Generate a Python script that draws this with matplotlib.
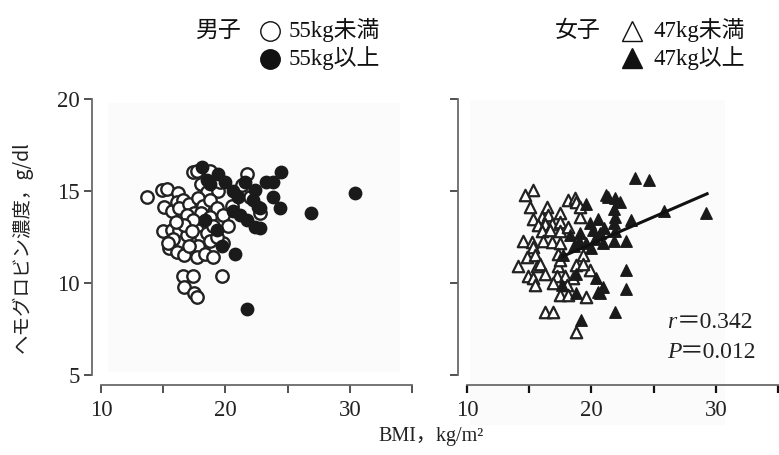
import matplotlib
matplotlib.use("Agg")
import matplotlib.pyplot as plt
from matplotlib.lines import Line2D
from matplotlib.patches import Rectangle

plt.rcParams['font.family'] = ['Liberation Serif', 'Noto Sans CJK JP', 'DejaVu Sans']
plt.rcParams['mathtext.fontset'] = 'stix'

# ---------------- data ----------------
male_light_x = [13.7, 14.9, 15.3, 15.1, 15.7, 16.2, 16.1, 16.6, 16.3, 17.1, 17.5, 16.9, 15.0, 15.7, 16.3,
                15.8, 16.9, 17.7, 18.0, 18.5, 15.5, 16.1, 16.7, 17.8, 17.7, 18.4, 19.0, 16.6, 17.4, 19.7,
                16.7, 17.5, 17.7, 17.4, 17.7, 18.8, 18.0, 18.5, 19.4, 17.8, 18.2, 18.8, 19.3, 18.0, 18.8,
                19.8, 17.4, 20.2, 19.0, 16.7, 17.3, 21.7, 22.0, 22.8, 19.8, 18.8, 17.1, 19.6,
                20.5, 21.3, 19.3, 16.0, 15.4]
male_light_y = [14.7, 15.05, 15.1, 14.15, 13.9, 14.9, 14.4, 14.5, 14.05, 14.3, 13.8, 13.7, 12.8, 12.9, 12.9,
                12.4, 12.6, 12.9, 12.5, 12.7, 11.9, 11.7, 11.5, 12.0, 11.4, 11.6, 11.4, 10.4, 10.4, 10.4,
                9.8, 9.45, 9.25, 16.05, 16.1, 16.1, 15.4, 14.96, 15.0, 14.6, 14.2, 14.5, 14.05, 13.8, 13.6,
                13.7, 13.4, 13.1, 13.1, 13.15, 12.8, 15.9, 14.7, 13.8, 12.2, 12.3, 12.0, 15.5,
                14.2, 15.3, 12.5, 13.3, 12.2]

male_heavy_x = [18.1, 18.5, 19.4, 18.8, 20.0, 20.6, 21.0, 21.6, 22.4, 22.2, 22.6, 23.3, 23.8, 23.8, 24.4,
                20.6, 21.2, 21.7, 22.4, 18.4, 19.3, 19.7, 20.8, 21.7, 24.5, 26.9, 30.4, 22.8, 22.8]
male_heavy_y = [16.3, 15.6, 15.95, 15.4, 15.5, 15.0, 14.7, 15.5, 15.05, 14.5, 14.15, 15.5, 15.5, 14.7, 14.05,
                13.9, 13.7, 13.4, 13.05, 13.4, 12.9, 12.0, 11.6, 8.6, 16.05, 13.8, 14.9, 14.05, 13.0]

female_light_x = [15.3, 14.7, 15.1, 16.4, 18.1, 18.7, 18.8, 15.3, 16.0, 16.5, 17.5, 19.1, 15.7, 16.3, 16.8,
                  17.5, 16.0, 16.7, 17.5, 18.1, 14.5, 15.2, 16.1, 16.8, 15.3, 17.5, 14.8, 15.5, 17.3, 19.3,
                  14.1, 15.6, 15.9, 17.3, 18.8, 14.9, 15.3, 16.3, 17.2, 17.9, 18.5, 19.9, 15.5, 16.9, 18.0,
                  17.5, 18.1, 19.6, 16.3, 16.9, 18.8, 19.3, 17.5, 19.1]
female_light_y = [15.05, 14.8, 14.15, 14.15, 14.5, 14.6, 14.4, 13.5, 13.6, 13.7, 13.8, 13.6, 13.15, 13.2, 13.2,
                  13.3, 12.8, 12.9, 12.8, 13.05, 12.3, 12.25, 12.3, 12.25, 11.95, 12.15, 11.4, 11.5, 11.6, 11.5,
                  10.9, 10.9, 11.05, 10.9, 11.0, 10.4, 10.25, 10.5, 10.4, 10.4, 10.25, 10.7, 9.9, 10.0, 9.9,
                  9.35, 9.35, 9.25, 8.45, 8.45, 7.35, 11.05, 11.25, 14.15]

female_heavy_x = [21.35, 21.9, 19.6, 18.3, 19.1, 19.9, 20.1, 21.8, 21.9, 21.8, 21.9, 21.8, 20.7, 20.95, 17.7,
                  18.8, 20.4, 17.6, 18.8, 20.5, 21.9, 19.2, 22.8, 22.8, 22.8, 23.5, 24.6, 22.3, 23.2, 25.8,
                  29.25, 20.9, 20.7, 21.2, 20.3, 19.6, 20.0, 21.0, 20.5, 19.0, 18.6]
female_heavy_y = [14.7, 14.6, 14.3, 12.6, 12.7, 13.25, 12.9, 14.0, 13.6, 13.25, 12.8, 12.3, 12.7, 12.15, 11.5,
                  10.5, 10.25, 9.9, 9.45, 9.5, 8.45, 8.0, 10.7, 9.7, 12.3, 15.7, 15.6, 14.4, 13.4, 13.9,
                  13.8, 9.8, 9.45, 14.8, 12.4, 12.2, 11.9, 13.0, 13.5, 12.3, 12.0]

fit_x = [17.7, 29.3]
fit_y = [11.45, 14.85]

x_ticks = [10, 15, 20, 25, 30, 35]
x_ticklabels = ['10', '', '20', '', '30', '']
y_ticks = [5, 10, 15, 20]
y_ticklabels = ['5', '10', '15', '20']

stat_r = "0.342"
stat_p = "0.012"

# ---------------- figure ----------------
W, H = 779, 455
fig = plt.figure(figsize=(W / 100, H / 100), dpi=100)


def fx(px):
    return px / W


def fy(py):
    return 1 - py / H


# faint scanned background panels
for (x0, y0, x1, y1) in [(108, 103, 400, 372), (470, 100, 725, 425)]:
    fig.patches.append(Rectangle((fx(x0), fy(y1)), fx(x1) - fx(x0), fy(y0) - fy(y1),
                                 transform=fig.transFigure, facecolor='#fbfbfb',
                                 edgecolor='none', zorder=-5))

ax1 = fig.add_axes([fx(101), fy(375), fx(412) - fx(101), fy(99) - fy(375)])
ax2 = fig.add_axes([fx(467), fy(375), fx(778) - fx(467), fy(99) - fy(375)])

circ_s = 80
tri_s = 68
ax1.scatter(male_light_x, male_light_y, s=circ_s, marker='o', facecolors='white',
            edgecolors='#222222', linewidths=1.7, zorder=3)
ax1.scatter(male_heavy_x, male_heavy_y, s=circ_s, marker='o', facecolors='#1a1a1a',
            edgecolors='#1a1a1a', linewidths=1.0, zorder=4)

ax2.scatter(female_light_x, female_light_y, s=tri_s, marker='^', facecolors='white',
            edgecolors='#222222', linewidths=1.6, zorder=3)
ax2.scatter(female_heavy_x, female_heavy_y, s=tri_s, marker='^', facecolors='#1a1a1a',
            edgecolors='#1a1a1a', linewidths=1.0, zorder=4)
ax2.plot(fit_x, fit_y, color='#111111', lw=2.2, zorder=5)

for i, ax in enumerate((ax1, ax2)):
    ax.set_zorder(5)
    ax.set_xlim(10, 35)
    ax.set_ylim(5, 20)
    ax.patch.set_visible(False)
    for s in ('top', 'right'):
        ax.spines[s].set_visible(False)
    ax.spines['left'].set_position(('outward', 6.5))
    ax.spines['bottom'].set_position(('outward', 7.2))
    for s in ('left', 'bottom'):
        ax.spines[s].set_color('#6a6a6a')
        ax.spines[s].set_linewidth(1.3)
    ax.set_xticks(x_ticks)
    ax.set_xticklabels(x_ticklabels)
    ax.set_yticks(y_ticks)
    if i == 0:
        ax.set_yticklabels(y_ticklabels)
    else:
        ax.set_yticklabels([])
    ax.tick_params(axis='both', direction='out', length=6, width=1.2,
                   colors='#333333', labelcolor='#222222', labelsize=16.5, pad=3)
    ax.tick_params(axis='x', pad=5)

ax2.tick_params(axis='x', colors='#111111', width=1.6, labelcolor='#222222')

# stats (italic symbol + full-width equals and value)
fig.text(fx(667), fy(322), "r", fontsize=17, style='italic', ha='left', va='center',
         color='#222222')
fig.text(fx(677), fy(322), "＝" + stat_r, fontsize=17, ha='left', va='center',
         color='#222222')
fig.text(fx(667), fy(352), "P", fontsize=17, style='italic', ha='left', va='center',
         color='#222222')
fig.text(fx(680), fy(352), "＝" + stat_p, fontsize=17, ha='left', va='center',
         color='#222222')

# axis labels
fig.text(fx(22), fy(247), "ヘモグロビン濃度，g/dl", rotation=90, ha='center', va='center',
         fontsize=14, color='#222222', family=['Noto Sans CJK JP', 'Liberation Serif'])
fig.text(fx(431), fy(437), "BMI，kg/m²", ha='center', va='center',
         fontsize=14.5, color='#222222')

# legends
def leg_marker(px, py, marker, filled, ms):
    fig.add_artist(Line2D([fx(px)], [fy(py)], transform=fig.transFigure, marker=marker,
                          markersize=ms, markerfacecolor='#111111' if filled else 'white',
                          markeredgecolor='#111111', markeredgewidth=1.0, linestyle='none'))

fs_leg = 16.5
fig.text(fx(218), fy(30), "男子", ha='center', va='center', fontsize=fs_leg,
         family=['Noto Sans CJK JP'], color='#111111')
leg_marker(270, 31, 'o', False, 14)
fig.text(fx(289), fy(30), "55kg未満", ha='left', va='center', fontsize=fs_leg, color='#111111')
leg_marker(270, 59, 'o', True, 14)
fig.text(fx(289), fy(58), "55kg以上", ha='left', va='center', fontsize=fs_leg, color='#111111')

fig.text(fx(578), fy(30), "女子", ha='center', va='center', fontsize=fs_leg,
         family=['Noto Sans CJK JP'], color='#111111')
leg_marker(632, 31, '^', False, 15)
fig.text(fx(654), fy(30), "47kg未満", ha='left', va='center', fontsize=fs_leg, color='#111111')
leg_marker(632, 58, '^', True, 15)
fig.text(fx(654), fy(58), "47kg以上", ha='left', va='center', fontsize=fs_leg, color='#111111')

fig.savefig("out.png", dpi=100)
